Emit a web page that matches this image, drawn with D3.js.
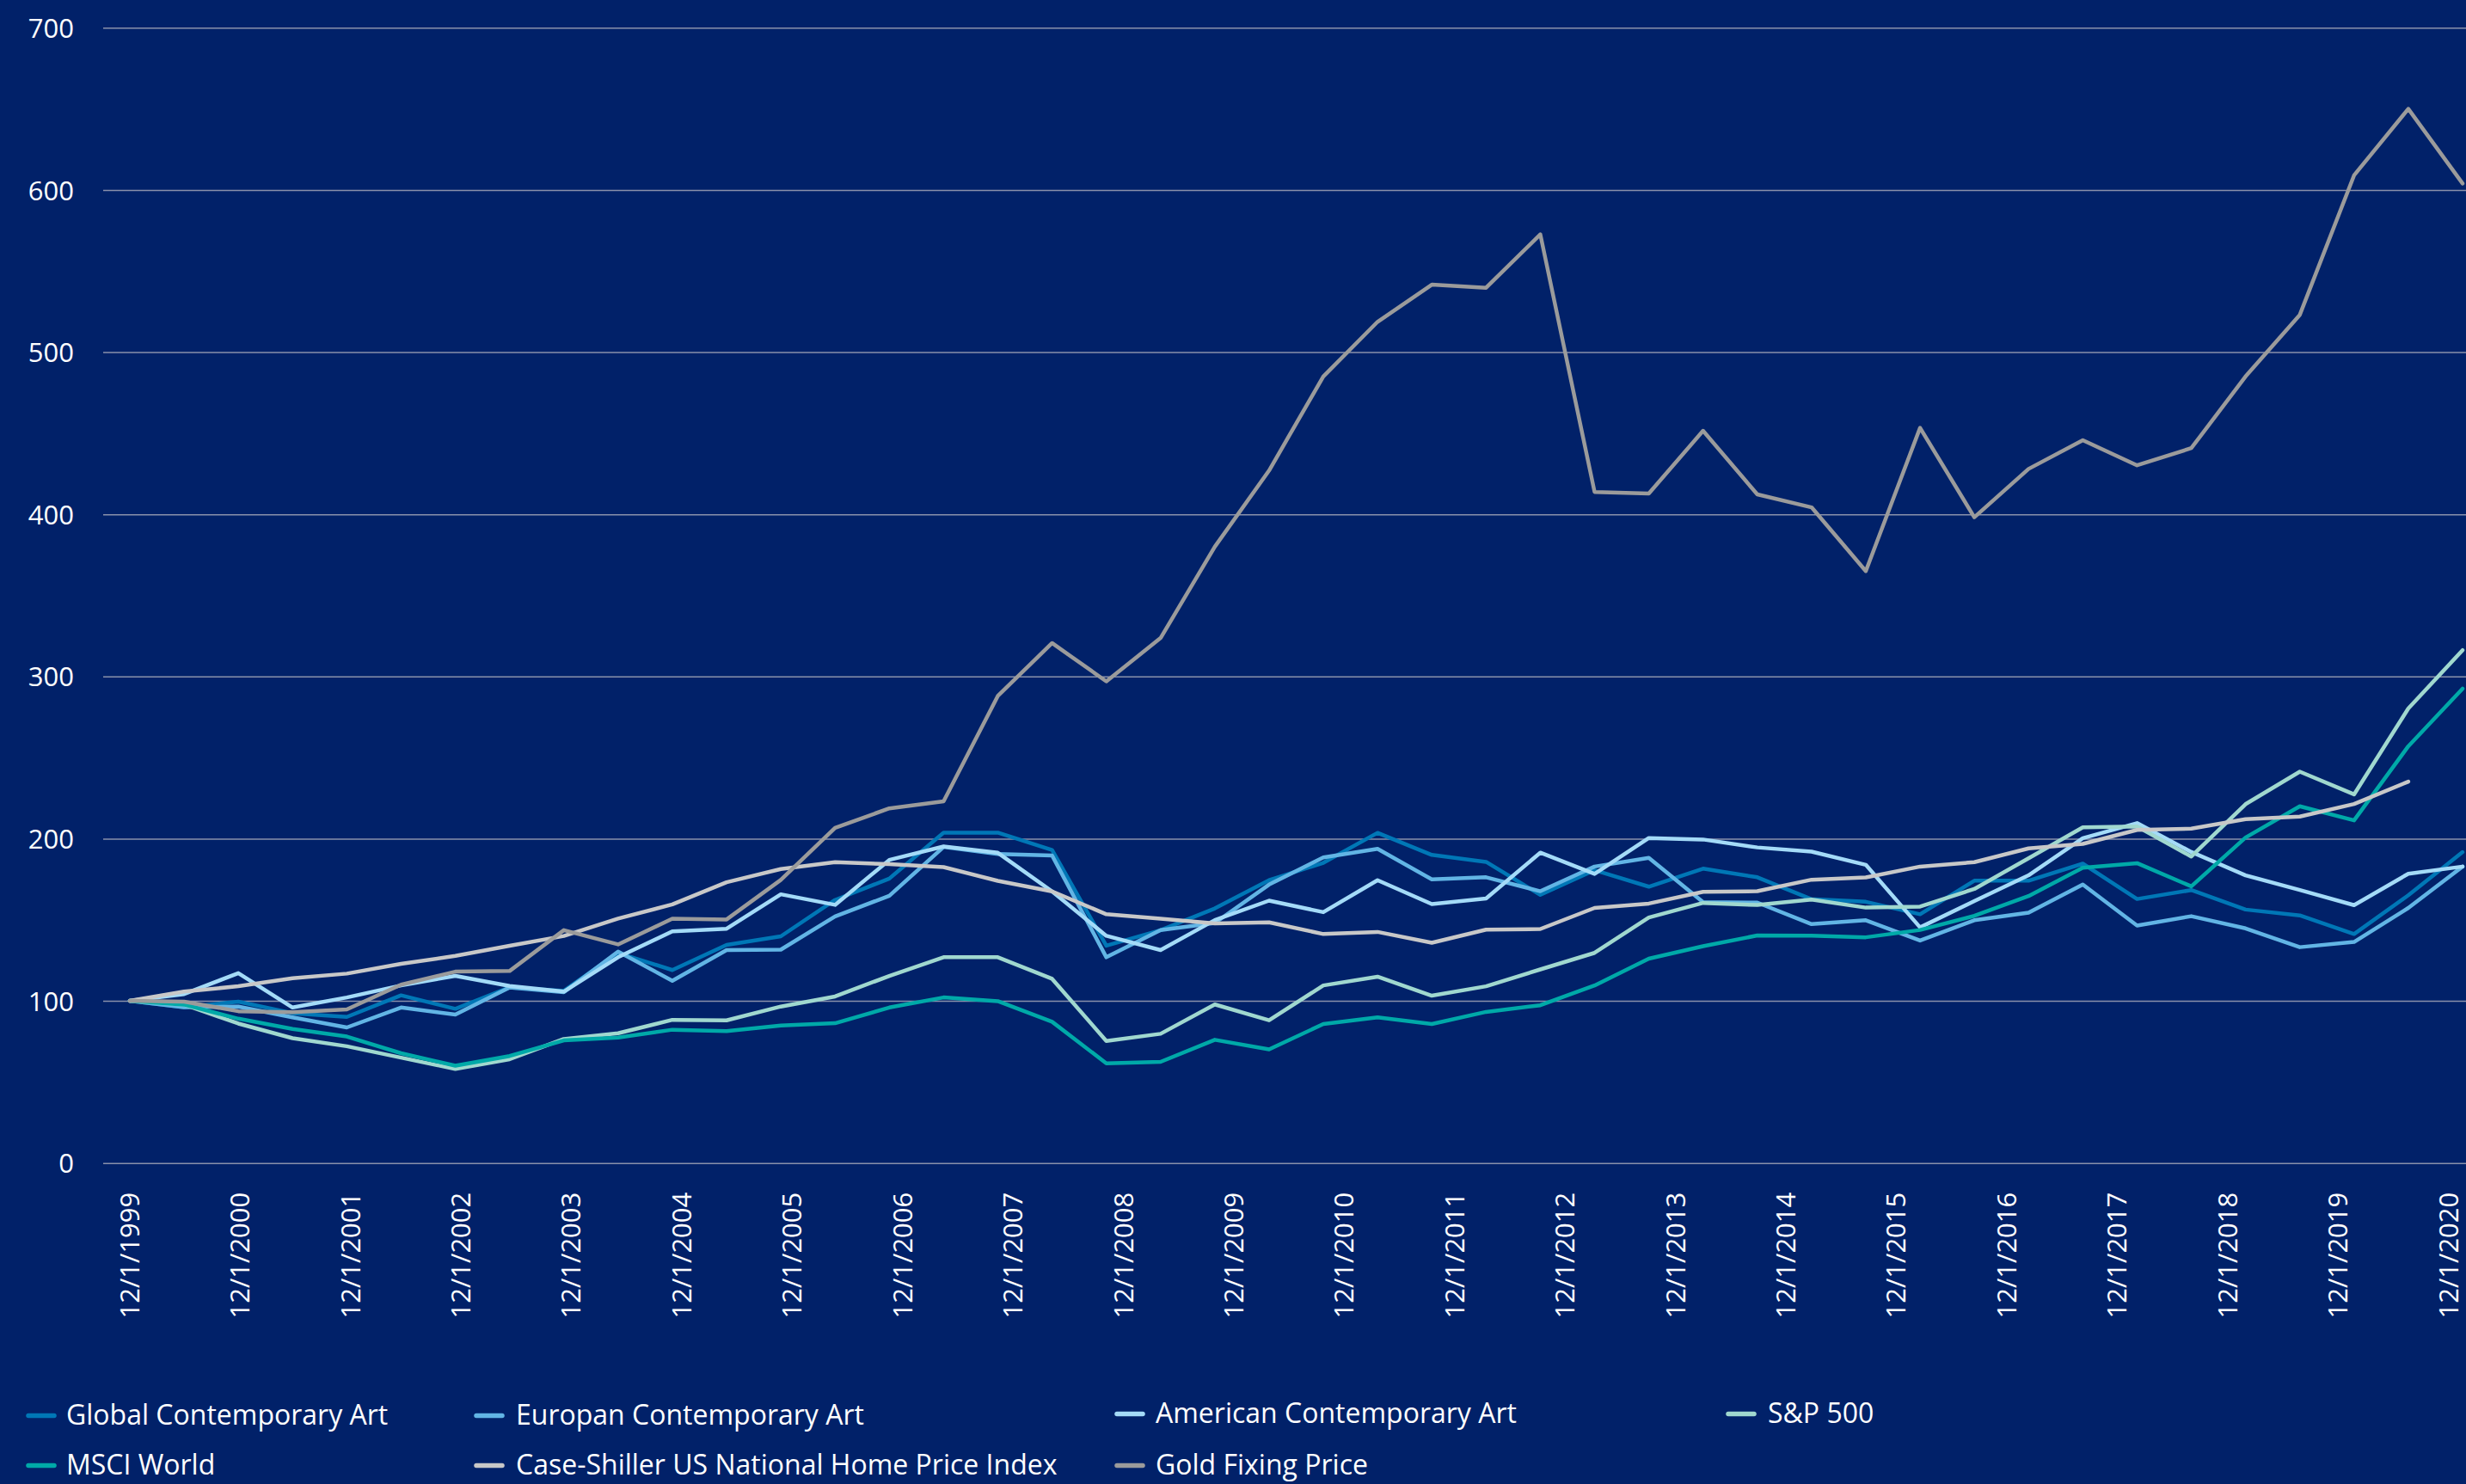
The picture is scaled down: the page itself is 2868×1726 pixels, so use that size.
<!DOCTYPE html>
<html>
<head>
<meta charset="utf-8">
<script src="https://cdn.jsdelivr.net/npm/d3@7"></script>
<style>
  html, body { margin: 0; padding: 0; background: #012169; }
  svg { display: block; }
  text { font-family: "Open Sans", "Noto Sans", sans-serif; fill: #ffffff; }
</style>
</head>
<body>
<svg id="chart" width="2868" height="1726"></svg>
<script>
// Semi-annual observation dates (index = 100 at 12/1/1999)
const periods = [
  "12/1/1999", "6/1/2000", "12/1/2000", "6/1/2001", "12/1/2001", "6/1/2002",
  "12/1/2002", "6/1/2003", "12/1/2003", "6/1/2004", "12/1/2004", "6/1/2005",
  "12/1/2005", "6/1/2006", "12/1/2006", "6/1/2007", "12/1/2007", "6/1/2008",
  "12/1/2008", "6/1/2009", "12/1/2009", "6/1/2010", "12/1/2010", "6/1/2011",
  "12/1/2011", "6/1/2012", "12/1/2012", "6/1/2013", "12/1/2013", "6/1/2014",
  "12/1/2014", "6/1/2015", "12/1/2015", "6/1/2016", "12/1/2016", "6/1/2017",
  "12/1/2017", "6/1/2018", "12/1/2018", "6/1/2019", "12/1/2019", "6/1/2020",
  "12/1/2020", "6/1/2021"
];

const globalArt = [
  100, 96.1, 99.5, 92.4, 90.1, 103.4, 95.1, 108.3, 106.2, 129.5, 119,
  134.5, 139.8, 162.2, 175.4, 203.7, 203.7, 193, 134, 143.6, 157,
  174.4, 185.1, 203.6, 190, 185.7, 165.4, 180.6, 170.4, 181.5, 176.2,
  162.7, 161.1, 153.4, 174.1, 174.1, 184.6, 162.8, 168.3, 156.3, 152.7,
  141.2, 165.1, 191.7
];

const europeanArt = [
  100, 96, 96.5, 89.8, 83.6, 95.9, 91.5, 108.3, 105.3, 130.4, 112.4,
  131.3, 131.6, 152.1, 164.8, 194.9, 190.5, 189.6, 126.9, 143.6, 148,
  171.7, 188.4, 193.7, 174.9, 176.2, 167.6, 182.8, 188.2, 160.9, 160.6,
  147.3, 149.7, 137.2, 149.7, 154.4, 171.7, 146.4, 152.2, 144.7, 133.1,
  136.3, 157.3, 182.8
];

const americanArt = [
  100, 104.2, 117.1, 95.9, 102.1, 109.5, 115.4, 109.2, 105.7, 126.9, 142.8,
  144.5, 165.7, 159.2, 186.9, 195.2, 191.3, 167.5, 140.1, 131.3, 149.8,
  161.8, 154.7, 174.4, 159.7, 163.1, 191.4, 178.3, 200.4, 199.5, 194.6,
  192, 183.9, 145.3, 161.5, 177.4, 200.3, 209.6, 191.8, 177.4, 168.4,
  159, 178.4, 182.8
];

const sp500 = [
  100, 97.7, 86, 77, 72, 65, 58, 64, 76.5, 80, 88.3,
  88, 96.5, 102.7, 115.4, 126.9, 126.9, 113.6, 75.3, 79.7, 97.8,
  88, 109.5, 114.9, 103.2, 109, 119.4, 129.6, 151.4, 160.4, 159.1,
  162.5, 157.5, 158.1, 169, 187.9, 207, 207.5, 189, 221.3, 241.3,
  227.3, 280.3, 316.2
];

const msciWorld = [
  100, 97.7, 89, 82.7, 78, 67.7, 60, 66, 75.6, 77.4, 82.2,
  81.3, 84.8, 86.2, 95.9, 102.1, 99.8, 87.1, 61.5, 62.4, 76,
  70.1, 85.7, 89.8, 85.7, 93.2, 97.3, 109.5, 126, 133.7, 140.3,
  140.2, 139.2, 143.7, 152.4, 164.6, 182.1, 184.9, 170.6, 200.7, 220,
  211.3, 257, 292.5
];

const caseShiller = [
  100, 105.7, 109, 114, 116.8, 122.8, 127.7, 134, 140, 150.7, 159.5,
  173.1, 181.3, 185.5, 184.3, 182.5, 174, 167.5, 153.4, 150.7, 147.8,
  148.4, 141.2, 142.5, 135.8, 143.9, 144.3, 157.3, 160, 167.2, 167.6,
  174.7, 176.1, 182.8, 185.5, 194, 196.8, 205.4, 206.2, 212, 213.6,
  221.4, 235.2, null
];

const gold = [
  100, 99.5, 93.6, 93, 94.7, 110, 118, 118.4, 143.6, 134.8, 150.7,
  150.2, 174.6, 206.7, 218.7, 223, 288, 320.6, 297, 323.7, 380,
  427, 485, 518.7, 541.6, 539.7, 572.6, 413.8, 412.8, 451.5, 412.3,
  404.3, 365, 453.3, 398.2, 428, 445.7, 430.2, 440.8, 485, 523,
  609, 650, 604
];

const seriesNames = [
  "Global Contemporary Art", "Europan Contemporary Art", "American Contemporary Art",
  "S&P 500", "MSCI World", "Case-Shiller US National Home Price Index", "Gold Fixing Price"
];
const seriesValues = [globalArt, europeanArt, americanArt, sp500, msciWorld, caseShiller, gold];
const seriesColors = ["#0077b6", "#62b5e5", "#a4dbf8", "#a0d8cf", "#00a9a8", "#c8c8c8", "#9b9b9b"];

const yTicks = [0, 100, 200, 300, 400, 500, 600, 700];
const xTickLabels = [
  "12/1/1999", "12/1/2000", "12/1/2001", "12/1/2002", "12/1/2003", "12/1/2004",
  "12/1/2005", "12/1/2006", "12/1/2007", "12/1/2008", "12/1/2009", "12/1/2010",
  "12/1/2011", "12/1/2012", "12/1/2013", "12/1/2014", "12/1/2015", "12/1/2016",
  "12/1/2017", "12/1/2018", "12/1/2019", "12/1/2020"
];

// ---- layout ----
const W = 2868, H = 1726;
const plotLeft = 120, plotRight = 2868;
const yBottom = 1352.7, yTop = 32.3;

const svg = d3.select("#chart");
svg.append("rect").attr("width", W).attr("height", H).attr("fill", "#012169");

const x = d3.scalePoint().domain(periods).range([151, 2864]);
const y = d3.scaleLinear().domain([0, 700]).range([yBottom, yTop]);

const parseDate = d3.timeParse("%m/%d/%Y");
const tickDates = xTickLabels.map(parseDate);
const xTime = d3.scaleTime()
  .domain([tickDates[0], tickDates[tickDates.length - 1]])
  .range([150, 2847]);

// Horizontal gridlines with value labels
const yAxisG = svg.append("g")
  .attr("transform", `translate(${plotLeft},0)`)
  .call(d3.axisLeft(y)
    .tickValues(yTicks)
    .tickSize(-(plotRight - plotLeft))
    .tickPadding(34)
    .tickFormat(d3.format("d")));
yAxisG.select(".domain").remove();
yAxisG.selectAll(".tick line")
  .attr("stroke", "#8a91ab")
  .attr("stroke-width", 1.6);
yAxisG.selectAll(".tick text")
  .attr("fill", "#ffffff")
  .attr("font-size", 31)
  .attr("dy", "0.36em");

// Date axis, labels rotated to read upward
const xAxisG = svg.append("g")
  .attr("transform", `translate(0,${yBottom})`)
  .call(d3.axisBottom(xTime)
    .tickValues(tickDates)
    .tickSize(0)
    .tickFormat((d, i) => xTickLabels[i]));
xAxisG.select(".domain").remove();
xAxisG.selectAll(".tick text")
  .attr("fill", "#ffffff")
  .attr("font-size", 31)
  .attr("transform", "rotate(-90)")
  .attr("text-anchor", "end")
  .attr("x", -34)
  .attr("y", 0)
  .attr("dy", "0.36em");

// Series lines
const line = d3.line()
  .defined(d => d != null)
  .x((d, i) => x(periods[i]))
  .y(d => y(d));

svg.append("g")
  .selectAll("path")
  .data(seriesValues)
  .join("path")
  .attr("d", d => line(d))
  .attr("fill", "none")
  .attr("stroke", (d, i) => seriesColors[i])
  .attr("stroke-width", 4.5)
  .attr("stroke-linejoin", "round")
  .attr("stroke-linecap", "round");

// Legend
const legendPos = [
  { mx: 33, tx: 77, cy: 1645 },
  { mx: 554, tx: 600, cy: 1645 },
  { mx: 1299, tx: 1344, cy: 1643 },
  { mx: 2010, tx: 2056, cy: 1643 },
  { mx: 33, tx: 77, cy: 1703 },
  { mx: 554, tx: 600, cy: 1703 },
  { mx: 1299, tx: 1344, cy: 1703 }
];

const legend = svg.append("g")
  .selectAll("g")
  .data(seriesNames)
  .join("g")
  .attr("transform", (d, i) => `translate(0,${legendPos[i].cy})`);

legend.append("line")
  .attr("x1", (d, i) => legendPos[i].mx)
  .attr("x2", (d, i) => legendPos[i].mx + 30)
  .attr("y1", 1.5)
  .attr("y2", 1.5)
  .attr("stroke", (d, i) => seriesColors[i])
  .attr("stroke-width", 5.5)
  .attr("stroke-linecap", "round");

legend.append("text")
  .attr("x", (d, i) => legendPos[i].tx)
  .attr("y", 0)
  .attr("dy", "0.36em")
  .attr("font-size", 32)
  .text(d => d);
</script>
</body>
</html>
